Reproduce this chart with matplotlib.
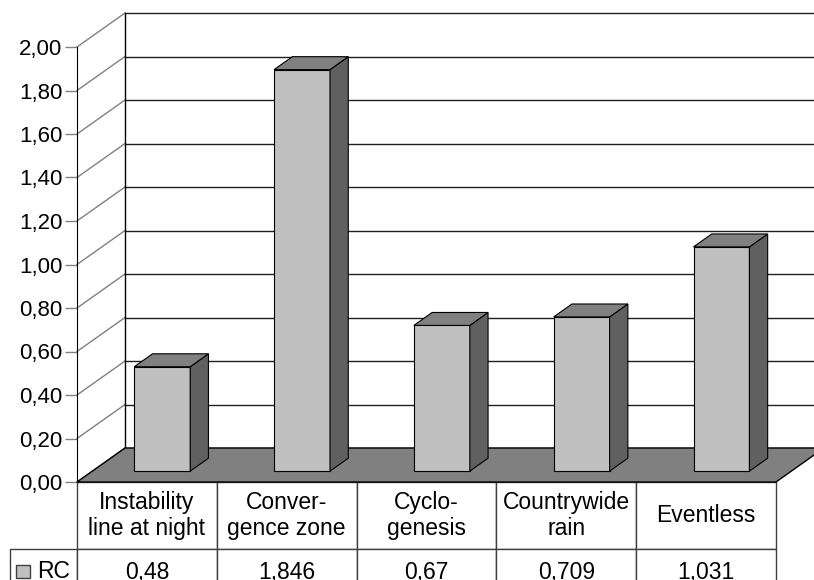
import matplotlib
matplotlib.use('Agg')
import matplotlib.pyplot as plt
from matplotlib.patches import Polygon, Rectangle
import numpy as np

categories = ['Instability\nline at night', 'Conver-\ngence zone', 'Cyclo-\ngenesis',
              'Countrywide\nrain', 'Eventless']
series_name = 'RC'
rc_values = [0.48, 1.846, 0.67, 0.709, 1.031]
rc_labels = ['0,48', '1,846', '0,67', '0,709', '1,031']
y_ticks = np.arange(0, 2.01, 0.2)
y_labels = ['{:.2f}'.format(t).replace('.', ',') for t in y_ticks]

plt.rcParams['font.family'] = ['Liberation Sans', 'DejaVu Sans']

W, H = 814, 580
fig = plt.figure(figsize=(W / 100, H / 100), dpi=100)
ax = fig.add_axes([77 / W, 98 / H, 699 / W, 435 / H])
ax.set_xlim(0, 5)
ax.set_ylim(0, 2)

# depth of the fake 3d box, in data units
DX = 48 / 699 * 5
DY = 34 / 435 * 2

# floor
ax.add_patch(Polygon([(0, 0), (5, 0), (5 + DX, DY), (DX, DY)], closed=True,
                     fc='#808080', ec='black', lw=1, clip_on=False, zorder=2))

# back wall gridlines and left wall lines
for t in y_ticks:
    ax.plot([DX, 5 + DX], [t + DY, t + DY], color='#202020', lw=1, clip_on=False, zorder=1)
    ax.plot([0, DX], [t, t + DY], color='#808080', lw=1, clip_on=False, zorder=1)
ax.plot([DX, DX], [DY, 2 + DY], color='black', lw=1, clip_on=False, zorder=1)

# bars
w = 0.4
f0, f1 = 0.32, 0.70
for i, v in enumerate(rc_values):
    c = i + 0.5
    xl = c - w / 2 + f0 * DX
    xr = c + w / 2 + f0 * DX
    front = [(xl, f0 * DY), (xr, f0 * DY), (xr, v + f0 * DY), (xl, v + f0 * DY)]
    side = [(xr, f0 * DY), (xr + (f1 - f0) * DX, f1 * DY),
            (xr + (f1 - f0) * DX, v + f1 * DY), (xr, v + f0 * DY)]
    top = [(xl, v + f0 * DY), (xr, v + f0 * DY),
           (xr + (f1 - f0) * DX, v + f1 * DY), (xl + (f1 - f0) * DX, v + f1 * DY)]
    ax.add_patch(Polygon(front, closed=True, fc='#c0c0c0', ec='black', lw=0.8, zorder=3, clip_on=False))
    ax.add_patch(Polygon(side, closed=True, fc='#606060', ec='black', lw=0.8, zorder=3, clip_on=False))
    ax.add_patch(Polygon(top, closed=True, fc='#808080', ec='black', lw=0.8, zorder=3, clip_on=False))

for s in ['top', 'right', 'bottom']:
    ax.spines[s].set_visible(False)
ax.spines['left'].set_color('black')
ax.spines['left'].set_zorder(4)
ax.set_xticks([])
ax.set_yticks(y_ticks)
ax.set_yticklabels(y_labels)
ax.tick_params(axis='y', direction='out', length=8.5, width=1, color='#808080',
               labelsize=16, pad=2)

# data table under the chart, first column holds the series name
tab = ax.table(cellText=[[series_name] + rc_labels], colLabels=[''] + categories,
               cellLoc='center', bbox=[-67 / 699, -113 / 435, 766 / 699, 113 / 435])
tab.auto_set_font_size(False)
tab.set_fontsize(16.5)
for (r, col), cell in tab.get_celld().items():
    cell.set_width(67 if col == 0 else 139.8)
    cell.set_height(67 if r == 0 else 46)
    cell.set_edgecolor('#404040')
    cell.set_linewidth(1)
    cell.set_clip_on(False)
    cell.get_text().set_clip_on(False)
tab[0, 0].visible_edges = ''
tab[1, 0].get_text().set_horizontalalignment('right')

# legend key in the row label
fig.patches.append(Rectangle((16 / W, 2 / H), 14 / W, 13 / H, transform=fig.transFigure,
                             fc='#c0c0c0', ec='#404040', lw=1))

fig.savefig('out.png', dpi=100)
